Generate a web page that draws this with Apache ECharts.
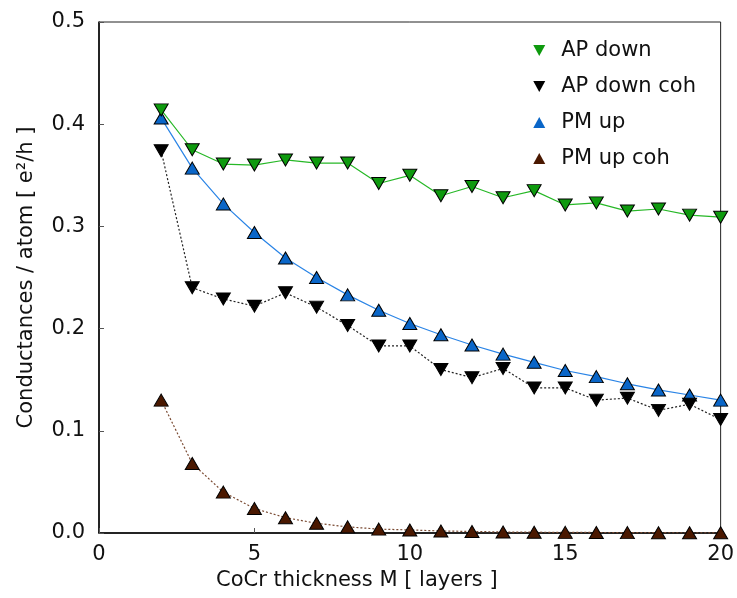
<!DOCTYPE html>
<html>
<head>
<meta charset="utf-8">
<script src="https://cdn.jsdelivr.net/npm/echarts@6/dist/echarts.min.js"></script>
<style>
  html, body { margin: 0; padding: 0; background: #fff; }
  #chart { width: 737px; height: 598px; }
</style>
</head>
<body>
<div id="chart"></div>
<script>
// CoCr thickness M (layers)
const thickness = [2, 3, 4, 5, 6, 7, 8, 9, 10, 11, 12, 13, 14, 15, 16, 17, 18, 19, 20];

// Conductances per atom in units of e^2/h
const apDown    = [0.414, 0.375, 0.361, 0.360, 0.365, 0.362, 0.362, 0.342, 0.350, 0.330, 0.339, 0.328, 0.335, 0.321, 0.323, 0.315, 0.317, 0.311, 0.309];
const apDownCoh = [0.374, 0.240, 0.229, 0.222, 0.235, 0.221, 0.203, 0.183, 0.183, 0.160, 0.152, 0.161, 0.142, 0.142, 0.130, 0.132, 0.120, 0.126, 0.111];
const pmUp      = [0.406, 0.357, 0.322, 0.294, 0.269, 0.250, 0.233, 0.218, 0.205, 0.194, 0.184, 0.175, 0.167, 0.159, 0.153, 0.146, 0.140, 0.135, 0.130];
const pmUpCoh   = [0.130, 0.068, 0.040, 0.024, 0.015, 0.0095, 0.006, 0.0038, 0.003, 0.002, 0.0015, 0.001, 0.0008, 0.0006, 0.0005, 0.0004, 0.0003, 0.0002, 0.0002];

const xTicks = [0, 5, 10, 15, 20];
const yTicks = [0.0, 0.1, 0.2, 0.3, 0.4, 0.5];

const FONT = 'DejaVu Sans';
const DOWN_TRI = 'path://M0,0 L10,0 L5,9 Z';
const UP_TRI = 'path://M5,0 L10,9 L0,9 Z';

function pairs(ys) { return thickness.map((x, i) => [x, ys[i]]); }

function lineSeries(name, ys, fill, lineColor, lineType, z, pointsDown) {
  return {
    name: name,
    type: 'line',
    data: pairs(ys),
    symbol: 'triangle',
    symbolRotate: pointsDown ? 180 : 0,
    symbolSize: [14, 12],
    showSymbol: true,
    z: z,
    itemStyle: { color: fill, borderColor: '#000', borderWidth: 1 },
    lineStyle: { color: lineColor, width: 1.2, type: lineType },
    emphasis: { disabled: true },
    animation: false
  };
}

const chart = echarts.init(document.getElementById('chart'), null, { renderer: 'canvas' });
chart.setOption({
  backgroundColor: '#fff',
  animation: false,
  grid: {
    left: 99, right: 14, top: 22, bottom: 65,
    show: true, borderColor: '#222', borderWidth: 1, backgroundColor: 'transparent'
  },
  legend: {
    orient: 'vertical',
    right: 36, top: 35,
    itemWidth: 12, itemHeight: 11, itemGap: 15,
    textStyle: { fontFamily: FONT, fontSize: 21, color: '#111', lineHeight: 21, padding: [0, 0, 0, 11] },
    itemStyle: { borderWidth: 0 },
    data: [
      { name: 'AP down', icon: DOWN_TRI },
      { name: 'AP down coh', icon: DOWN_TRI },
      { name: 'PM up', icon: UP_TRI },
      { name: 'PM up coh', icon: UP_TRI }
    ]
  },
  xAxis: {
    type: 'value',
    min: xTicks[0], max: xTicks[xTicks.length - 1], interval: 5,
    name: 'CoCr thickness M [ layers ]',
    nameLocation: 'middle', nameGap: 37,
    nameTextStyle: { fontFamily: FONT, fontSize: 21, color: '#111', padding: [0, 106, 0, 0] },
    axisLine: { lineStyle: { color: '#000', width: 1.5 } },
    axisTick: { inside: true, length: 5, lineStyle: { color: '#555' } },
    axisLabel: { fontFamily: FONT, fontSize: 21, color: '#111', margin: 11 },
    splitLine: { show: false }
  },
  yAxis: {
    type: 'value',
    min: yTicks[0], max: yTicks[yTicks.length - 1], interval: 0.1,
    name: 'Conductances / atom [ e²/h ]',
    nameLocation: 'middle', nameGap: 62,
    nameTextStyle: { fontFamily: FONT, fontSize: 21, color: '#111' },
    axisLine: { lineStyle: { color: '#000', width: 1.5 } },
    axisTick: { inside: true, length: 5, lineStyle: { color: '#555' } },
    axisLabel: { fontFamily: FONT, fontSize: 21, color: '#111', margin: 14, formatter: v => v.toFixed(1) },
    splitLine: { show: false }
  },
  series: [
    lineSeries('AP down', apDown, '#0e9a0e', '#27b827', 'solid', 6, true),
    lineSeries('AP down coh', apDownCoh, '#000', '#222', [2, 2], 5, true),
    lineSeries('PM up', pmUp, '#0a66c8', '#2a84e6', 'solid', 4, false),
    lineSeries('PM up coh', pmUpCoh, '#4a1800', '#7a4a32', [2, 2], 3, false)
  ]
});
</script>
</body>
</html>
